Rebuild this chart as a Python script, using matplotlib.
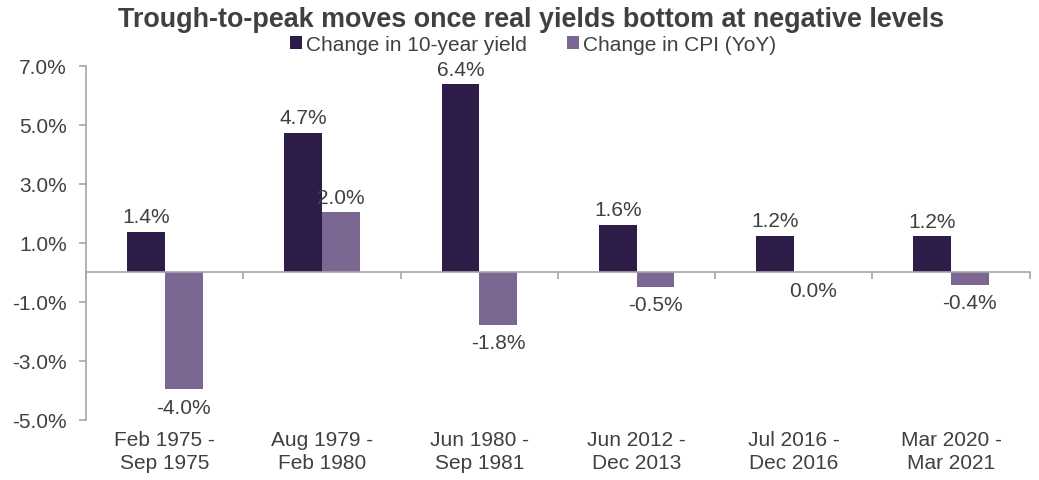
import numpy as np
import matplotlib.pyplot as plt

periods = ["Feb 1975 -\nSep 1975", "Aug 1979 -\nFeb 1980", "Jun 1980 -\nSep 1981",
           "Jun 2012 -\nDec 2013", "Jul 2016 -\nDec 2016", "Mar 2020 -\nMar 2021"]
yield_change = [1.37, 4.74, 6.38, 1.61, 1.24, 1.22]
cpi_change = [-3.97, 2.04, -1.78, -0.48, 0.0, -0.43]
y_ticks = [-5, -3, -1, 1, 3, 5, 7]

DARK = "#2e1c48"
LIGHT = "#7b6791"
TEXT = "#404040"
AXIS = "#a6a6a6"
FS = 15

plt.rcParams["font.family"] = ["Liberation Sans", "DejaVu Sans"]

fig = plt.figure(figsize=(10.39, 4.81), dpi=100)
ax = fig.add_axes([0.083, 0.125, 0.908, 0.736])

x = np.arange(len(periods))
w = 0.24
b1 = ax.bar(x - w / 2, yield_change, w, color=DARK, label="Change in 10-year yield", zorder=2)
b2 = ax.bar(x + w / 2, cpi_change, w, color=LIGHT, label="Change in CPI (YoY)", zorder=2)

for bars, vals in ((b1, yield_change), (b2, cpi_change)):
    for rect, v in zip(bars, vals):
        above = v > 0
        ax.annotate(f"{v:.1f}%", (rect.get_x() + rect.get_width() / 2, v),
                    xytext=(0, 4 if above else -6), textcoords="offset points",
                    ha="center", va="bottom" if above else "top",
                    fontsize=FS, color=TEXT)

ax.set_xlim(-0.5, len(periods) - 0.5)
ax.set_ylim(-5, 7)
ax.set_yticks(y_ticks)
ax.set_yticklabels([f"{t:.1f}%" for t in y_ticks])
ax.tick_params(axis="y", direction="out", length=5, width=1.2, color=AXIS,
               labelsize=FS, labelcolor=TEXT, pad=9)

for s in ("top", "right"):
    ax.spines[s].set_visible(False)
ax.spines["left"].set_color(AXIS)
ax.spines["left"].set_linewidth(1.2)
ax.spines["bottom"].set_position(("data", 0))
ax.spines["bottom"].set_color(AXIS)
ax.spines["bottom"].set_linewidth(1.2)
ax.set_xticks(np.arange(-0.5, len(periods)))
ax.tick_params(axis="x", direction="out", length=5, width=1.2, color=AXIS, labelbottom=False)

# category labels sit under the plot, while the zero line carries the ticks
sec = ax.secondary_xaxis("bottom")
sec.spines["bottom"].set_visible(False)
sec.set_xticks(x)
sec.set_xticklabels(periods)
sec.tick_params(length=0, pad=7, labelsize=FS, labelcolor=TEXT)
for lbl in sec.get_xticklabels():
    lbl.set_linespacing(1.3)

fig.text(0.511, 0.985, "Trough-to-peak moves once real yields bottom at negative levels",
         ha="center", va="top", fontsize=19.4, fontweight="bold", color=TEXT)
fig.legend(handles=[b1, b2], loc="center", bbox_to_anchor=(0.513, 0.905), ncol=2,
           frameon=False, fontsize=FS, labelcolor=TEXT, handlelength=0.6,
           handleheight=0.6, handletextpad=0.2, columnspacing=1.9)

fig.savefig("out.png", dpi=100)
